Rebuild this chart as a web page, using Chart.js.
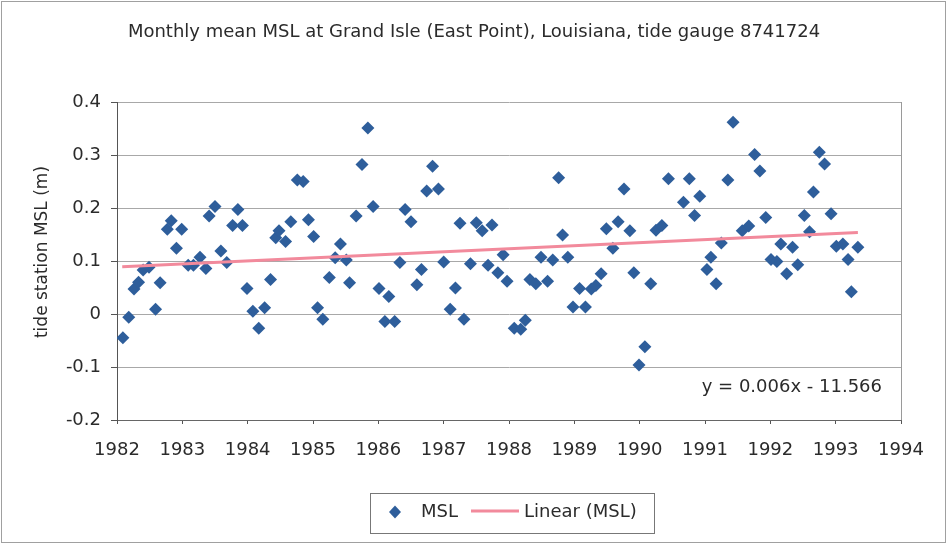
<!DOCTYPE html>
<html>
<head>
<meta charset="utf-8">
<script src="https://cdn.jsdelivr.net/npm/chart.js@4"></script>
<style>
  html, body { margin: 0; padding: 0; background: #fff; }
  #wrap { width: 947px; height: 544px; position: relative; }
</style>
</head>
<body>
<div id="wrap"><canvas id="c" width="947" height="544"></canvas></div>
<script>
// ---- Data ----
const years = [
  1982.09,1982.18,1982.26,1982.33,1982.40,1982.49,1982.59,1982.66,1982.77,1982.83,1982.91,1982.99,
  1983.09,1983.17,1983.27,1983.36,1983.41,1983.50,1983.59,1983.68,1983.77,1983.85,1983.92,1983.99,
  1984.08,1984.17,1984.26,1984.35,1984.43,1984.48,1984.58,1984.66,1984.76,1984.85,1984.93,1985.01,
  1985.07,1985.15,1985.25,1985.34,1985.42,1985.51,1985.56,1985.66,1985.75,1985.84,1985.92,1986.01,
  1986.10,1986.16,1986.25,1986.33,1986.41,1986.50,1986.59,1986.66,1986.74,1986.83,1986.92,1987.00,
  1987.10,1987.18,1987.25,1987.31,1987.41,1987.50,1987.59,1987.68,1987.74,1987.83,1987.91,1987.97,
  1988.08,1988.18,1988.25,1988.32,1988.41,1988.49,1988.59,1988.67,1988.76,1988.82,1988.90,1988.98,
  1989.08,1989.17,1989.26,1989.33,1989.41,1989.49,1989.59,1989.67,1989.76,1989.85,1989.91,1989.99,
  1990.08,1990.17,1990.25,1990.34,1990.44,1990.67,1990.76,1990.84,1990.92,
  1991.03,1991.09,1991.17,1991.25,1991.35,1991.43,1991.57,1991.67,1991.76,1991.84,1991.93,
  1992.01,1992.10,1992.16,1992.25,1992.34,1992.42,1992.52,1992.60,1992.66,1992.75,1992.83,1992.93,
  1993.01,1993.11,1993.19,1993.24,1993.34
];
const msl = [
  -0.045,-0.006,0.047,0.060,0.083,0.088,0.009,0.059,0.160,0.176,0.124,0.160,
  0.092,0.092,0.107,0.086,0.185,0.203,0.119,0.097,0.167,0.197,0.167,0.048,
  0.005,-0.027,0.012,0.065,0.144,0.157,0.137,0.174,0.253,0.250,0.178,0.146,
  0.012,-0.010,0.069,0.106,0.132,0.102,0.059,0.185,0.282,0.351,0.203,0.048,
  -0.014,0.033,-0.014,0.097,0.197,0.174,0.055,0.084,0.232,0.279,0.236,0.098,
  0.009,0.049,0.171,-0.010,0.095,0.172,0.157,0.092,0.168,0.078,0.112,0.062,
  -0.027,-0.029,-0.012,0.065,0.057,0.107,0.062,0.102,0.257,0.149,0.107,0.013,
  0.048,0.013,0.047,0.054,0.076,0.161,0.124,0.174,0.236,0.157,0.078,-0.096,
  -0.062,0.057,0.158,0.167,0.255,0.211,0.255,0.186,0.222,
  0.084,0.107,0.057,0.134,0.253,0.362,0.157,0.166,0.301,0.270,0.182,
  0.103,0.099,0.132,0.076,0.126,0.093,0.186,0.155,0.230,0.305,0.283,0.189,
  0.128,0.132,0.103,0.042,0.126
];
const trendYears = [1982.08, 1993.34];
const trendMsl   = [0.089, 0.154];
const xTicks = [1982,1983,1984,1985,1986,1987,1988,1989,1990,1991,1992,1993,1994];
const yTicks = [-0.2,-0.1,0,0.1,0.2,0.3,0.4];

const titleText = 'Monthly mean MSL at Grand Isle (East Point), Louisiana, tide gauge 8741724';
const yLabel = 'tide station MSL (m)';
const eqText = 'y = 0.006x - 11.566';
const seriesName = 'MSL';
const trendName = 'Linear (MSL)';

const FONT = '"DejaVu Sans", "Liberation Sans", Arial, sans-serif';
const TXT = '#2b2b2b';
const BLUE = '#2e5e9b';
const PINK = '#f28a9c';

const deco = {
  id: 'deco',
  beforeDatasetsDraw(chart) {
    const {ctx, chartArea: a} = chart;
    ctx.save();
    ctx.strokeStyle = '#9a9a9a';
    ctx.lineWidth = 1;
    ctx.beginPath();
    ctx.moveTo(Math.round(a.right) + 0.5, a.top);
    ctx.lineTo(Math.round(a.right) + 0.5, a.bottom);
    ctx.stroke();
    ctx.restore();
  },
  afterDraw(chart) {
    const {ctx} = chart;
    ctx.save();
    // outer frame
    ctx.strokeStyle = '#a0a0a0';
    ctx.lineWidth = 1;
    ctx.strokeRect(1.5, 1.5, 944, 541);
    ctx.fillStyle = TXT;
    // title
    ctx.font = '18px ' + FONT;
    ctx.textAlign = 'center';
    ctx.textBaseline = 'middle';
    ctx.fillText(titleText, 474, 32);
    // y axis label
    ctx.save();
    ctx.translate(43, 252);
    ctx.rotate(-Math.PI / 2);
    ctx.font = '17px ' + FONT;
    ctx.fillText(yLabel, 0, 0);
    ctx.restore();
    // equation
    ctx.font = '18px ' + FONT;
    ctx.textAlign = 'right';
    ctx.fillText(eqText, 882, 387);
    // legend box
    ctx.strokeStyle = '#777';
    ctx.strokeRect(370.5, 493.5, 284, 40);
    // diamond
    ctx.fillStyle = BLUE;
    ctx.beginPath();
    ctx.moveTo(395, 505.5); ctx.lineTo(401, 512); ctx.lineTo(395, 518.5); ctx.lineTo(389, 512);
    ctx.closePath(); ctx.fill();
    ctx.fillStyle = TXT;
    ctx.font = '18px ' + FONT;
    ctx.textAlign = 'left';
    ctx.fillText(seriesName, 421, 512);
    ctx.strokeStyle = PINK;
    ctx.lineWidth = 3;
    ctx.beginPath(); ctx.moveTo(471, 511); ctx.lineTo(519, 511); ctx.stroke();
    ctx.fillText(trendName, 524, 512);
    ctx.restore();
  }
};

new Chart(document.getElementById('c'), {
  type: 'scatter',
  data: {
    datasets: [
      {
        label: seriesName,
        data: years.map((x, i) => ({x, y: msl[i]})),
        pointStyle: 'rectRot',
        pointRadius: 6.5,
        pointHoverRadius: 6.5,
        backgroundColor: BLUE,
        borderColor: BLUE,
        borderWidth: 0,
        order: 1
      },
      {
        label: trendName,
        type: 'line',
        data: trendYears.map((x, i) => ({x, y: trendMsl[i]})),
        borderColor: PINK,
        borderWidth: 3,
        pointRadius: 0,
        showLine: true,
        fill: false,
        order: 0
      }
    ]
  },
  options: {
    responsive: false,
    animation: false,
    devicePixelRatio: 1,
    layout: { padding: { left: 0, right: 46, top: 102, bottom: 80 } },
    plugins: { legend: { display: false }, title: { display: false }, tooltip: { enabled: false } },
    scales: {
      x: {
        type: 'linear', min: 1982, max: 1994,
        afterBuildTicks: s => { s.ticks = xTicks.map(v => ({value: v})); },
        afterFit: s => { s.height = 44; },
        grid: { drawOnChartArea: false, tickLength: 4, tickColor: '#555', color: '#555' },
        border: { color: '#666', width: 1 },
        ticks: { color: TXT, font: { family: FONT, size: 18 }, padding: 16, maxRotation: 0,
                 callback: v => String(v) }
      },
      y: {
        min: -0.2, max: 0.4,
        afterBuildTicks: s => { s.ticks = yTicks.map(v => ({value: v})); },
        afterFit: s => { s.width = 117; },
        grid: { color: '#a8a8a8', tickLength: 6, tickColor: '#555' },
        border: { color: '#555', width: 1 },
        ticks: { color: TXT, font: { family: FONT, size: 18 }, padding: 10,
                 callback: v => String(Number(v.toFixed(1))) }
      }
    }
  },
  plugins: [deco]
});
</script>
</body>
</html>
